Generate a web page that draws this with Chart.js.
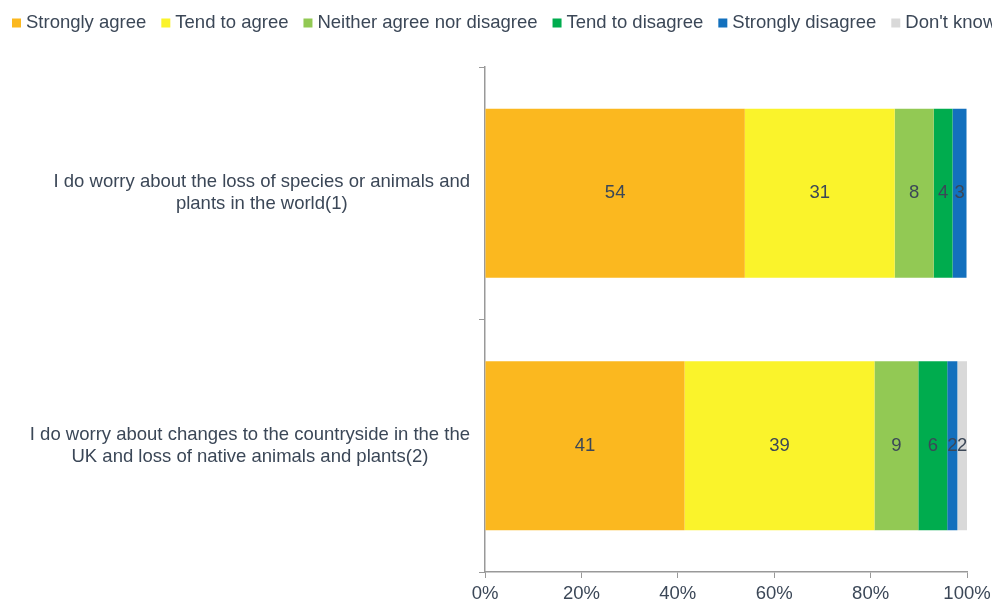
<!DOCTYPE html>
<html>
<head>
<meta charset="utf-8">
<script src="https://cdn.jsdelivr.net/npm/chart.js@4/dist/chart.umd.min.js"></script>
<style>
    html, body { margin: 0; padding: 0; background: #fff; }
    #wrap { width: 992px; height: 603px; }
</style>
</head>
<body>
<div id="wrap"><canvas id="chart"></canvas></div>
<script>
// data //
const questions = [
    ['I do worry about the loss of species or animals and', 'plants in the world(1)'],
    ['I do worry about changes to the countryside in the the', 'UK and loss of native animals and plants(2)']
];
const answers = ['Strongly agree', 'Tend to agree', 'Neither agree nor disagree', 'Tend to disagree', 'Strongly disagree', "Don't know"];
const stronglyAgree = [53.9, 41.4];
const tendAgree = [31.1, 39.4];
const neither = [8.1, 9.1];
const tendDisagree = [3.9, 6.0];
const stronglyDisagree = [2.9, 2.1];
const dontKnow = [0, 2.0];
const xTicks = [0, 20, 40, 60, 80, 100];

const colors = ['#FBB81F', '#FAF32B', '#92C954', '#00AC4E', '#1370BD', '#D9D9D9'];
const textColor = '#3B4757';
const axisColor = '#999999';
const font = '"Liberation Sans", Arial, sans-serif';
const fontSize = 18.5;

const series = [stronglyAgree, tendAgree, neither, tendDisagree, stronglyDisagree, dontKnow];

// value labels in the middle of each bar segment //
const barLabels = {
    id: 'barLabels',
    afterDatasetsDraw(chart) {
        const ctx = chart.ctx;
        ctx.save();
        ctx.font = fontSize + 'px ' + font;
        ctx.fillStyle = textColor;
        ctx.textAlign = 'center';
        ctx.textBaseline = 'middle';
        chart.data.datasets.forEach((ds, i) => {
            chart.getDatasetMeta(i).data.forEach((bar, j) => {
                const v = ds.data[j];
                if (v < 0.5) return;
                ctx.fillText(Math.round(v), (bar.x + bar.base) / 2, bar.y);
            });
        });
        ctx.restore();
    }
};

// category labels: each block right aligned to the axis, lines centred inside the block //
const questionLabels = {
    id: 'questionLabels',
    afterDraw(chart) {
        const ctx = chart.ctx;
        const scale = chart.scales.y;
        const lineHeight = 22;
        ctx.save();
        ctx.font = fontSize + 'px ' + font;
        ctx.fillStyle = textColor;
        ctx.textAlign = 'center';
        ctx.textBaseline = 'middle';
        chart.data.labels.forEach((lines, i) => {
            const y = scale.getPixelForValue(i);
            const widest = Math.max(...lines.map(l => ctx.measureText(l).width));
            const cx = scale.right - 15 - widest / 2;
            lines.forEach((line, k) => {
                ctx.fillText(line, cx, y + (k - (lines.length - 1) / 2) * lineHeight);
            });
        });
        ctx.restore();
    }
};

// legend on one row, running off the right edge like the original //
const topLegend = {
    id: 'topLegend',
    afterDraw(chart) {
        const ctx = chart.ctx;
        let x = 12;
        const y = 23;
        ctx.save();
        ctx.font = fontSize + 'px ' + font;
        ctx.textAlign = 'left';
        ctx.textBaseline = 'middle';
        chart.data.datasets.forEach(ds => {
            ctx.fillStyle = ds.backgroundColor;
            ctx.fillRect(x, y - 4.5, 9, 9);
            ctx.fillStyle = textColor;
            ctx.fillText(ds.label, x + 14, y);
            x += 14 + ctx.measureText(ds.label).width + 15;
        });
        ctx.restore();
    }
};

new Chart(document.querySelector('#chart'), {
    type: 'bar',
    data: {
        labels: questions,
        datasets: answers.map((name, i) => ({
            label: name,
            data: series[i],
            backgroundColor: colors[i],
            borderWidth: 0,
            categoryPercentage: 1,
            barPercentage: 0.67
        }))
    },
    options: {
        indexAxis: 'y',
        responsive: true,
        maintainAspectRatio: false,
        animation: false,
        layout: { padding: { top: 67, left: 12, right: 25, bottom: 0 } },
        plugins: {
            legend: { display: false },
            tooltip: { enabled: false }
        },
        scales: {
            x: {
                stacked: true,
                min: 0,
                max: 100,
                afterBuildTicks(scale) {
                    scale.ticks = xTicks.map(v => ({ value: v }));
                },
                afterFit(scale) {
                    scale.height = 31;
                    scale.paddingRight = 0;
                },
                ticks: {
                    callback: v => v + '%',
                    color: textColor,
                    font: { family: font, size: fontSize },
                    padding: 5,
                    maxRotation: 0
                },
                grid: {
                    drawOnChartArea: false,
                    drawTicks: true,
                    tickLength: 6,
                    color: axisColor
                },
                border: { color: axisColor, width: 1.5 }
            },
            y: {
                stacked: true,
                afterFit(scale) { scale.width = 473; },
                ticks: { display: false },
                grid: {
                    drawOnChartArea: false,
                    drawTicks: true,
                    tickLength: 6,
                    color: axisColor
                },
                border: { color: axisColor, width: 1.5 }
            }
        }
    },
    plugins: [barLabels, questionLabels, topLegend]
});
</script>
</body>
</html>
